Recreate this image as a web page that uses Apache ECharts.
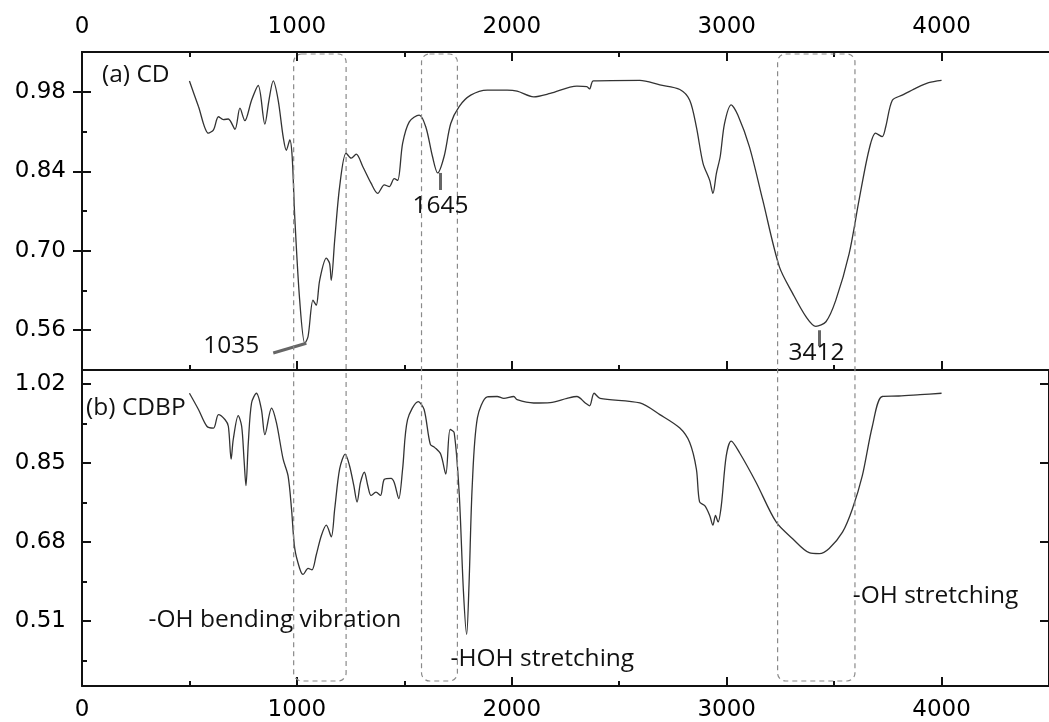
<!DOCTYPE html>
<html>
<head>
<meta charset="utf-8">
<script src="https://cdn.jsdelivr.net/npm/echarts@6/dist/echarts.min.js"></script>
<style>
  html, body { margin: 0; padding: 0; background: #fff; }
  #chart { width: 1049px; height: 722px; }
</style>
</head>
<body>
<div id="chart"></div>
<script>
// (a) CD spectrum
const cdWave = [500, 542, 588, 612, 635, 658, 681, 712, 735, 758, 789, 820, 851, 870, 890, 913, 936, 951, 967, 978,
  990, 1013, 1037, 1052, 1075, 1090, 1106, 1137, 1152, 1160, 1176, 1199, 1229, 1253, 1276, 1307, 1345, 1376, 1407, 1430,
  1453, 1469, 1492, 1523, 1569, 1600, 1631, 1655, 1685, 1716, 1755, 1809, 1886, 1979, 2025, 2102, 2179, 2303, 2349, 2362,
  2380, 2596, 2689, 2782, 2828, 2859, 2890, 2921, 2936, 2952, 2970, 2990, 3021, 3052, 3106, 3168, 3245, 3307, 3369, 3415,
  3462, 3508, 3570, 3616, 3662, 3693, 3724, 3740, 3771, 3817, 3879, 3940, 4000];
const cdValue = [0.999, 0.954, 0.907, 0.913, 0.936, 0.931, 0.932, 0.914, 0.951, 0.929, 0.965, 0.991, 0.923, 0.965, 0.999, 0.965, 0.901, 0.877, 0.895, 0.866,
  0.760, 0.613, 0.537, 0.549, 0.613, 0.604, 0.648, 0.687, 0.678, 0.648, 0.719, 0.813, 0.872, 0.863, 0.870, 0.848, 0.819, 0.801, 0.816, 0.813,
  0.827, 0.824, 0.889, 0.927, 0.939, 0.918, 0.866, 0.837, 0.866, 0.924, 0.954, 0.974, 0.983, 0.983, 0.981, 0.971, 0.977, 0.990, 0.989, 0.985,
  0.999, 1.000, 0.992, 0.984, 0.965, 0.918, 0.854, 0.824, 0.801, 0.836, 0.866, 0.924, 0.957, 0.939, 0.883, 0.789, 0.672, 0.625, 0.584, 0.567,
  0.575, 0.613, 0.695, 0.789, 0.877, 0.907, 0.901, 0.918, 0.965, 0.974, 0.986, 0.996, 1.000];

// (b) CDBP spectrum
const cdbpWave = [500, 542, 581, 612, 635, 666, 681, 694, 704, 727, 743, 754, 763, 774, 789, 812, 835, 851, 882, 905,
  936, 959, 975, 990, 1013, 1029, 1052, 1070, 1090, 1114, 1137, 1160, 1176, 1199, 1225, 1245, 1265, 1280, 1296, 1314,
  1330, 1345, 1368, 1389, 1407, 1438, 1453, 1474, 1492, 1515, 1565, 1592, 1621, 1642, 1669, 1693, 1713, 1732, 1755, 1775,
  1790, 1801, 1816, 1840, 1886, 1932, 1963, 2009, 2025, 2102, 2179, 2257, 2303, 2342, 2362, 2383, 2411, 2596, 2689, 2782,
  2828, 2859, 2874, 2898, 2921, 2936, 2948, 2960, 2975, 2998, 3021, 3060, 3137, 3230, 3307, 3384, 3431, 3477, 3539, 3585,
  3631, 3678, 3724, 3801, 3900, 4000];
const cdbpValue = [1.000, 0.965, 0.929, 0.925, 0.954, 0.943, 0.929, 0.858, 0.901, 0.952, 0.929, 0.858, 0.801, 0.894, 0.979, 1.000, 0.965, 0.911, 0.968, 0.936,
  0.858, 0.822, 0.751, 0.666, 0.623, 0.610, 0.623, 0.620, 0.652, 0.694, 0.716, 0.691, 0.751, 0.837, 0.869, 0.844, 0.801, 0.766, 0.808, 0.830,
  0.801, 0.780, 0.787, 0.780, 0.815, 0.817, 0.808, 0.773, 0.837, 0.943, 0.982, 0.965, 0.890, 0.883, 0.869, 0.826, 0.922, 0.915, 0.787, 0.574,
  0.481, 0.588, 0.801, 0.947, 0.992, 0.993, 0.989, 0.993, 0.986, 0.979, 0.980, 0.989, 0.993, 0.979, 0.973, 1.000, 0.989, 0.979, 0.954, 0.925,
  0.894, 0.837, 0.766, 0.758, 0.737, 0.716, 0.737, 0.723, 0.758, 0.865, 0.897, 0.872, 0.808, 0.723, 0.687, 0.657, 0.655, 0.666, 0.701, 0.751,
  0.822, 0.929, 0.993, 0.994, 0.997, 1.000];

const xMajor = [0, 1000, 2000, 3000, 4000];
const xMinor = [500, 1500, 2500, 3500];
const cdTicks = [0.56, 0.70, 0.84, 0.98];
const cdMinor = [0.63, 0.77, 0.91];
const cdbpTicks = [0.51, 0.68, 0.85, 1.02];
const cdbpMinor = [0.425, 0.595, 0.765, 0.935];

// dashed band boxes (wavenumber ranges)
const bands = [[985, 1229], [1580, 1747], [3237, 3597]];

// peak markers: [panel, from, to]
const peakLines = [
  [0, [890, 0.520], [1044, 0.537]],
  [0, [1665, 0.837], [1665, 0.807]],
  [0, [3429, 0.560], [3429, 0.532]]
];
// text notes: [panel, text, [x, y], align]
const notes = [
  [0, '(a) CD', [93, 1.009], 'left'],
  [0, '1035', [695, 0.532], 'center'],
  [0, '1645', [1668, 0.779], 'center'],
  [0, '3412', [3418, 0.520], 'center'],
  [1, '(b) CDBP', [19, 0.969], 'left'],
  [1, '-OH bending vibration', [310, 0.512], 'left'],
  [1, '-HOH stretching', [1715, 0.427], 'left'],
  [1, '-OH stretching', [3587, 0.564], 'left']
];

const pairs = (xs, ys) => xs.map((x, i) => [x, ys[i]]);
const tickFont = { fontFamily: 'DejaVu Sans', fontSize: 23, color: '#000' };
const lineCol = '#111';

function xAx(grid, pos, ticks, len, labels, showLine) {
  return {
    type: 'value', gridIndex: grid, position: pos, min: 0, max: 4500,
    axisLine: { show: showLine, lineStyle: { color: lineCol, width: 2 } },
    axisTick: { show: true, inside: true, length: len, customValues: ticks, lineStyle: { color: lineCol, width: 2 } },
    axisLabel: labels ? { ...tickFont, margin: 13, customValues: ticks, formatter: v => String(v) } : { show: false },
    splitLine: { show: false }
  };
}
function yAx(grid, pos, min, max, ticks, len, labels, showLine) {
  return {
    type: 'value', gridIndex: grid, position: pos, min: min, max: max,
    axisLine: { show: showLine, lineStyle: { color: lineCol, width: 2 } },
    axisTick: { show: true, inside: true, length: len, customValues: ticks, lineStyle: { color: lineCol, width: 2 } },
    axisLabel: labels ? { ...tickFont, margin: 16, customValues: ticks, formatter: v => v.toFixed(2) } : { show: false },
    splitLine: { show: false }
  };
}

const chart = echarts.init(document.getElementById('chart'));
const option = {
  animation: false,
  backgroundColor: '#fff',
  grid: [
    { left: 82, top: 52, width: 972, height: 318 },
    { left: 82, top: 370, width: 972, height: 318 }
  ],
  xAxis: [
    xAx(0, 'top', xMajor, 9, true, true),
    xAx(0, 'top', xMinor, 5, false, false),
    xAx(0, 'bottom', xMajor, 9, false, true),
    xAx(0, 'bottom', xMinor, 5, false, false),
    xAx(1, 'bottom', xMajor, 9, true, true),
    xAx(1, 'bottom', xMinor, 5, false, false)
  ],
  yAxis: [
    yAx(0, 'left', 0.49, 1.05, cdTicks, 9, true, true),
    yAx(0, 'left', 0.49, 1.05, cdMinor, 5, false, false),
    yAx(0, 'right', 0.49, 1.05, cdTicks, 9, false, true),
    yAx(1, 'left', 0.37, 1.05, cdbpTicks, 9, true, true),
    yAx(1, 'left', 0.37, 1.05, cdbpMinor, 5, false, false),
    yAx(1, 'right', 0.37, 1.05, cdbpTicks, 9, false, true)
  ],
  series: [
    {
      name: 'CD', type: 'line', xAxisIndex: 0, yAxisIndex: 0,
      data: pairs(cdWave, cdValue), showSymbol: false, silent: true,
      smooth: 0.3,
      lineStyle: { color: '#333', width: 1.3 },
      markLine: {
        silent: true, symbol: ['none', 'none'], label: { show: false },
        lineStyle: { color: '#666', width: 3, type: 'solid' },
        data: peakLines.filter(p => p[0] === 0).map(p => [{ coord: p[1] }, { coord: p[2] }])
      }
    },
    {
      name: 'CDBP', type: 'line', xAxisIndex: 4, yAxisIndex: 3,
      data: pairs(cdbpWave, cdbpValue), showSymbol: false, silent: true,
      smooth: 0.3,
      lineStyle: { color: '#333', width: 1.3 }
    }
  ]
};
chart.setOption(option);

// overlay: dashed boxes and notes placed through the axes' own scales
const toPx = (panel, p) => chart.convertToPixel(panel === 0 ? { xAxisIndex: 0, yAxisIndex: 0 } : { xAxisIndex: 4, yAxisIndex: 3 }, p);
const graphics = [];
bands.forEach(b => {
  const tl = toPx(0, [b[0], 1.05]);
  const br = toPx(1, [b[1], 0.37]);
  graphics.push({
    type: 'rect', silent: true, z: 50,
    shape: { x: tl[0], y: tl[1] + 2, width: br[0] - tl[0], height: br[1] - tl[1] - 7, r: 8 },
    style: { fill: 'none', stroke: '#8a8a8a', lineWidth: 1.2, lineDash: [5, 4] }
  });
});
notes.forEach(n => {
  const p = toPx(n[0], n[2]);
  graphics.push({
    type: 'text', silent: true, z: 60, x: p[0], y: p[1],
    style: { text: n[1], fontFamily: 'Open Sans', fontSize: 24.5, fill: '#111', align: n[3], verticalAlign: 'middle' }
  });
});
chart.setOption({ graphic: graphics });
</script>
</body>
</html>
